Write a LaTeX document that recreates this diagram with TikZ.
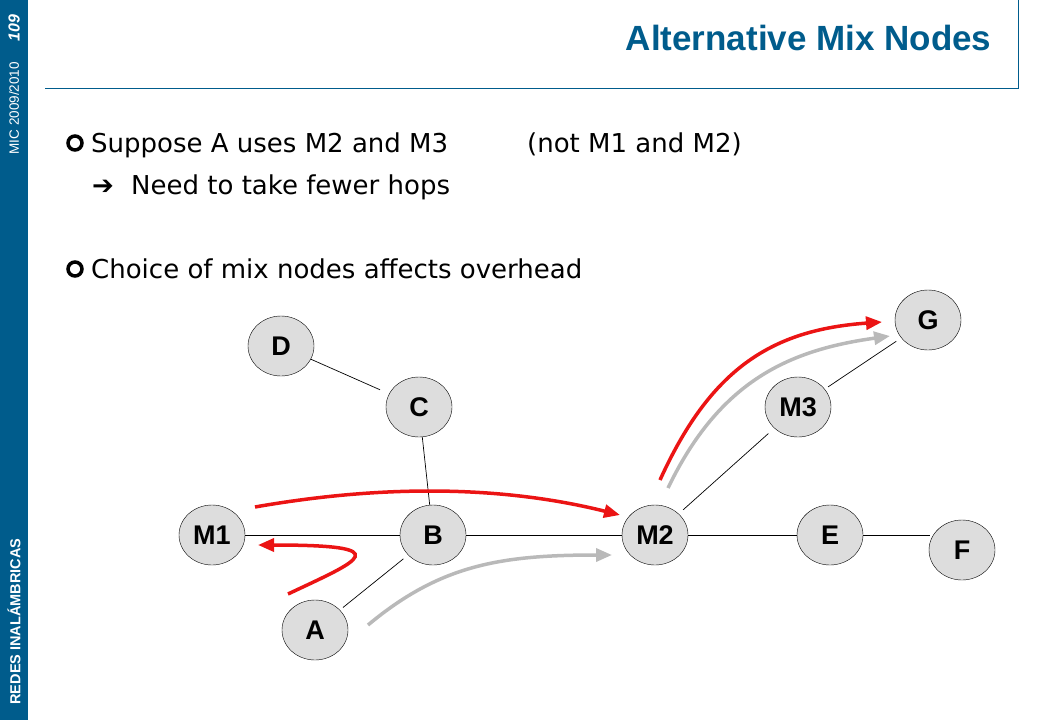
\documentclass[tikz,border=0pt]{standalone}
\usepackage{fontspec}
\setmainfont{DejaVu Sans}
\newfontfamily\arialfont{Liberation Sans}
\usetikzlibrary{shapes.geometric,arrows.meta}
\definecolor{barblue}{RGB}{0,92,140}
\definecolor{nodegray}{RGB}{221,221,221}
\definecolor{pathred}{RGB}{235,20,20}
\definecolor{pathgray}{RGB}{185,185,185}
\tikzset{
  mixnode/.style={ellipse, draw, fill=nodegray, minimum width=66pt, minimum height=60pt,
    inner sep=0pt, font=\arialfont\fontsize{27}{27}\selectfont\bfseries},
  link/.style={draw, line width=0.7pt},
  redpath/.style={pathred, line width=3.5pt, -{Triangle[length=16pt,width=13pt]}},
  graypath/.style={pathgray, line width=3.5pt, -{Triangle[length=16pt,width=13pt]}},
  bullettext/.style={anchor=base west, font=\fontsize{26}{30}\selectfont, inner sep=0pt}
}
\begin{document}
\begin{tikzpicture}[x=1pt, y=-1pt]
    \useasboundingbox (0,0) rectangle (1040,720);
    % side bar
    \fill[barblue] (0,0) rectangle (28,720);
    \node[rotate=90, anchor=west, text=white, font=\arialfont\fontsize{14.5}{14.5}\selectfont\bfseries]
      (course) at (14,708) {REDES INALÁMBRICAS};
    \node[rotate=90, anchor=west, text=white, font=\arialfont\fontsize{13.5}{13.5}\selectfont]
      (year) at (14,158) {MIC 2009/2010};
    \node[rotate=90, anchor=west, text=white, font=\arialfont\fontsize{16}{16}\selectfont\bfseries\itshape]
      (page) at (14,45) {109};
    % title
    \draw[barblue, line width=0.8pt] (45,88) -- (1018,88) -- (1018,0);
    \node[anchor=east, text=barblue, font=\arialfont\fontsize{35}{35}\selectfont\bfseries]
      (title) at (995,38) {Alternative Mix Nodes};

    % bullets
    \foreach \y/\name in {143/b1, 269/b2}
      \draw[line width=3.5pt] (75,\y) circle (7pt);
    \node[bullettext] (t1) at (91,152) {Suppose A uses M2 and M3};
    \node[bullettext] (t1b) at (527,152) {(not M1 and M2)};
    \node[anchor=base west, font=\fontsize{26}{30}\selectfont\bfseries, inner sep=0pt] (arr) at (92,194) {\char"2794};
    \node[bullettext] (t2) at (131,194) {Need to take fewer hops};
    \node[bullettext] (t3) at (91,278) {Choice of mix nodes affects overhead};

    % nodes
    \node[mixnode] (D) at (281,346) {D};
    \node[mixnode] (C) at (419,407) {C};
    \node[mixnode] (M1) at (212,535) {M1};
    \node[mixnode] (B) at (433,535) {B};
    \node[mixnode] (M2) at (655,535) {M2};
    \node[mixnode] (E) at (830,535) {E};
    \node[mixnode] (F) at (962,550) {F};
    \node[mixnode] (A) at (315,630) {A};
    \node[mixnode] (M3) at (798,407) {M3};
    \node[mixnode] (G) at (928,320) {G};

    % links
    \draw[link, shorten >=10pt] (D) -- (C);
    \draw[link] (C) -- (B);
    \draw[link] (M1) -- (B);
    \draw[link] (B) -- (M2);
    \draw[link] (M2) -- (E);
    \draw[link] (E.east) -- (930,535);
    \draw[link, shorten <=4pt, shorten >=6pt] (A) -- (B);
    \draw[link, shorten <=6pt, shorten >=8pt] (M2) -- (M3);
    \draw[link, shorten <=4pt, shorten >=6pt] (M3) -- (G);

    % paths
    \draw[graypath] (368,625) .. controls (440,565) and (500,555) .. (612,555);
    \draw[redpath] (255,507) .. controls (380,485) and (500,485) .. (620,515);
    \draw[redpath] (288,594) .. controls (360,560) and (400,545) .. (258,545);
    \draw[graypath] (668,488) .. controls (720,380) and (790,350) .. (890,336);
    \draw[redpath] (660,480) .. controls (710,370) and (770,330) .. (882,322);
\end{tikzpicture}
\end{document}
